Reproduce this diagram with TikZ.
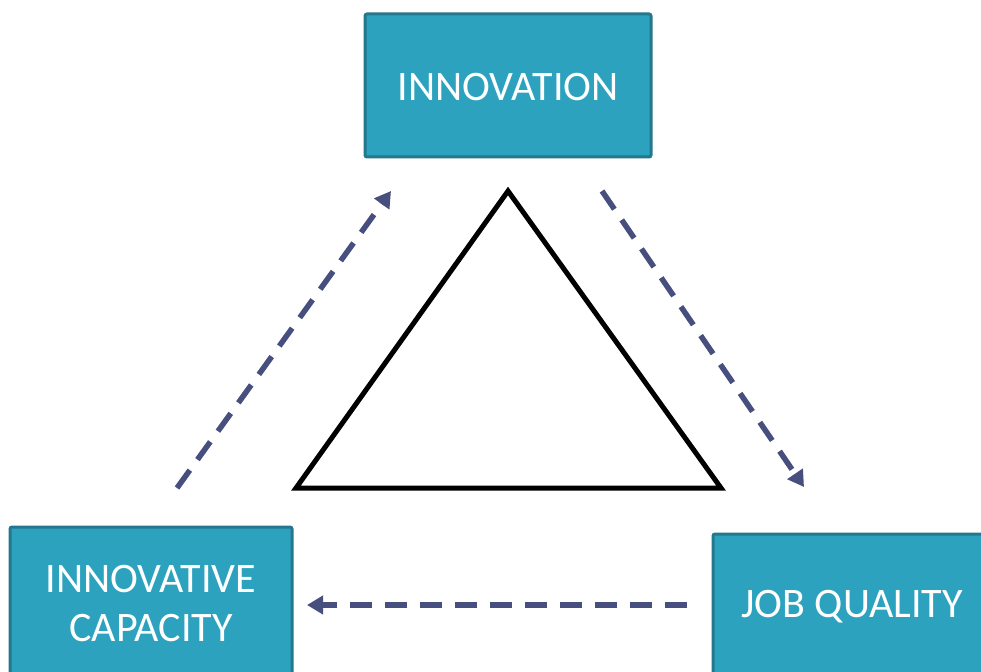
\documentclass[tikz,border=0pt]{standalone}
\usepackage{fontspec}
\setmainfont{Carlito}
\usetikzlibrary{arrows.meta}
\definecolor{boxfill}{HTML}{2CA2BF}
\definecolor{boxedge}{HTML}{24788D}
\definecolor{flow}{HTML}{474F7E}
\begin{document}
\begin{tikzpicture}[x=1pt,y=-1pt,
  block/.style={draw=boxedge,line width=3pt,fill=boxfill,rounded corners=2pt},
  label/.style={text=white,font=\fontsize{42}{49}\selectfont,align=center,inner sep=0pt},
  flowarrow/.style={draw=flow,line width=5.5pt,dash pattern=on 22pt off 13pt,
    -{Triangle[length=16pt,width=18pt]}}]
  \useasboundingbox (0,0) rectangle (981,671);
  \begin{scope}
    \clip (0,0) rectangle (981,671);
    % three boxes
    \draw[block] (365,14) rectangle (651,157);
    \draw[block] (10,527) rectangle (292,700);
    \draw[block] (713,534) rectangle (1000,700);
  \end{scope}
  \node[label] (inno) at (508,87) {INNOVATION};
  \node[label] (cap) at (151,604) {INNOVATIVE\\CAPACITY};
  \node[label] (job) at (852,607) {JOB QUALITY};
  % central triangle
  \coordinate (top) at (508,191);
  \coordinate (bl) at (296,488);
  \coordinate (br) at (721,488);
  \draw[line width=5pt,line join=miter] (top) -- (bl) -- (br) -- cycle;
  % dashed flows
  \coordinate (a1) at (177,488);
  \coordinate (a2) at (391,191);
  \coordinate (b1) at (602,191);
  \coordinate (b2) at (804,487);
  \coordinate (c1) at (687,605);
  \coordinate (c2) at (307,605);
  \draw[flowarrow] (a1) -- (a2);
  \draw[flowarrow] (b1) -- (b2);
  \draw[flowarrow] (c1) -- (c2);
\end{tikzpicture}
\end{document}
